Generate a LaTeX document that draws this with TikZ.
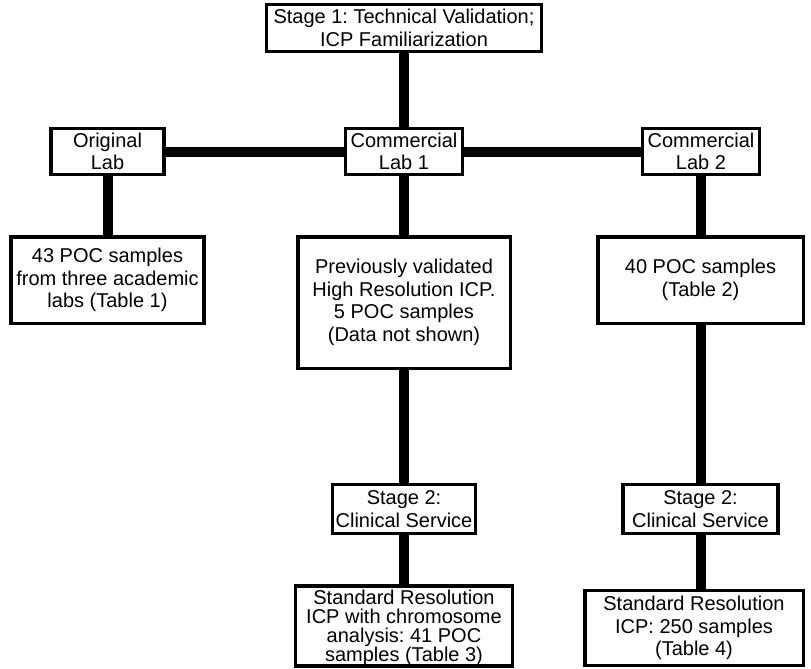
\documentclass[tikz,border=0pt]{standalone}
\usepackage{fontspec}
\setmainfont{Liberation Sans}
\usepackage{tikz}
\usetikzlibrary{positioning, calc}
\frenchspacing

\newcommand{\boxfont}{\fontsize{20}{22.5}\selectfont}
\newcommand{\tightfont}{\fontsize{20}{19}\selectfont}

\begin{document}
\begin{tikzpicture}[x=1pt, y=-1pt,
    box/.style={rectangle, draw=black, line width=3.5pt, fill=white,
                align=center, inner sep=0pt, font=\boxfont},
    link/.style={line width=10pt, black}]
    \useasboundingbox (0,0) rectangle (811,669);

    \node[box, minimum width=275pt, minimum height=47pt](stage1) at (404,28)
         {Stage 1: Technical Validation;\\ICP Familiarization};

    \node[box, minimum width=113pt, minimum height=46pt](orig) at (107.5,151.5)
         {Original\\Lab};
    \node[box, minimum width=117pt, minimum height=46pt](cl1) at (404,151.5)
         {Commercial\\Lab 1};
    \node[box, minimum width=117pt, minimum height=46pt](cl2) at (701,151.5)
         {Commercial\\Lab 2};

    \node[box, minimum width=193pt, minimum height=86.5pt](poc43) at (107.5,280)
         {43 POC samples\\from three academic\\labs (Table 1)};
    \node[box, minimum width=212.5pt, minimum height=131.5pt](prev) at (404,302.5)
         {Previously validated\\High Resolution ICP.\\5 POC samples\\(Data not shown)};
    \node[box, minimum width=205.5pt, minimum height=86.5pt](poc40) at (700.5,280)
         {40 POC samples\\(Table 2)};

    \node[box, minimum width=143pt, minimum height=49pt](st2a) at (404,509)
         {Stage 2:\\Clinical Service};
    \node[box, minimum width=155pt, minimum height=49pt](st2b) at (700.5,509)
         {Stage 2:\\Clinical Service};

    \node[box, font=\tightfont, minimum width=217pt, minimum height=80pt](std1) at (404,626)
         {\rule{0pt}{18pt}Standard Resolution\\ICP with chromosome\\analysis: 41 POC\\samples (Table 3)};
    \node[box, minimum width=218.5pt, minimum height=75pt](std2) at (694,628)
         {Standard Resolution\\ICP: 250 samples\\(Table 4)};

    \draw[link](stage1)--(cl1);
    \draw[link](orig)--(cl1);
    \draw[link](cl1)--(cl2);
    \draw[link](orig)--(orig |- poc43.north);
    \draw[link](cl1)--(prev);
    \draw[link](cl2)--(cl2 |- poc40.north);
    \draw[link](prev)--(st2a);
    \draw[link](st2a)--(std1);
    \draw[link](poc40)--(st2b);
    \draw[link](st2b)--(st2b |- std2.north);
  \end{tikzpicture}
\end{document}
